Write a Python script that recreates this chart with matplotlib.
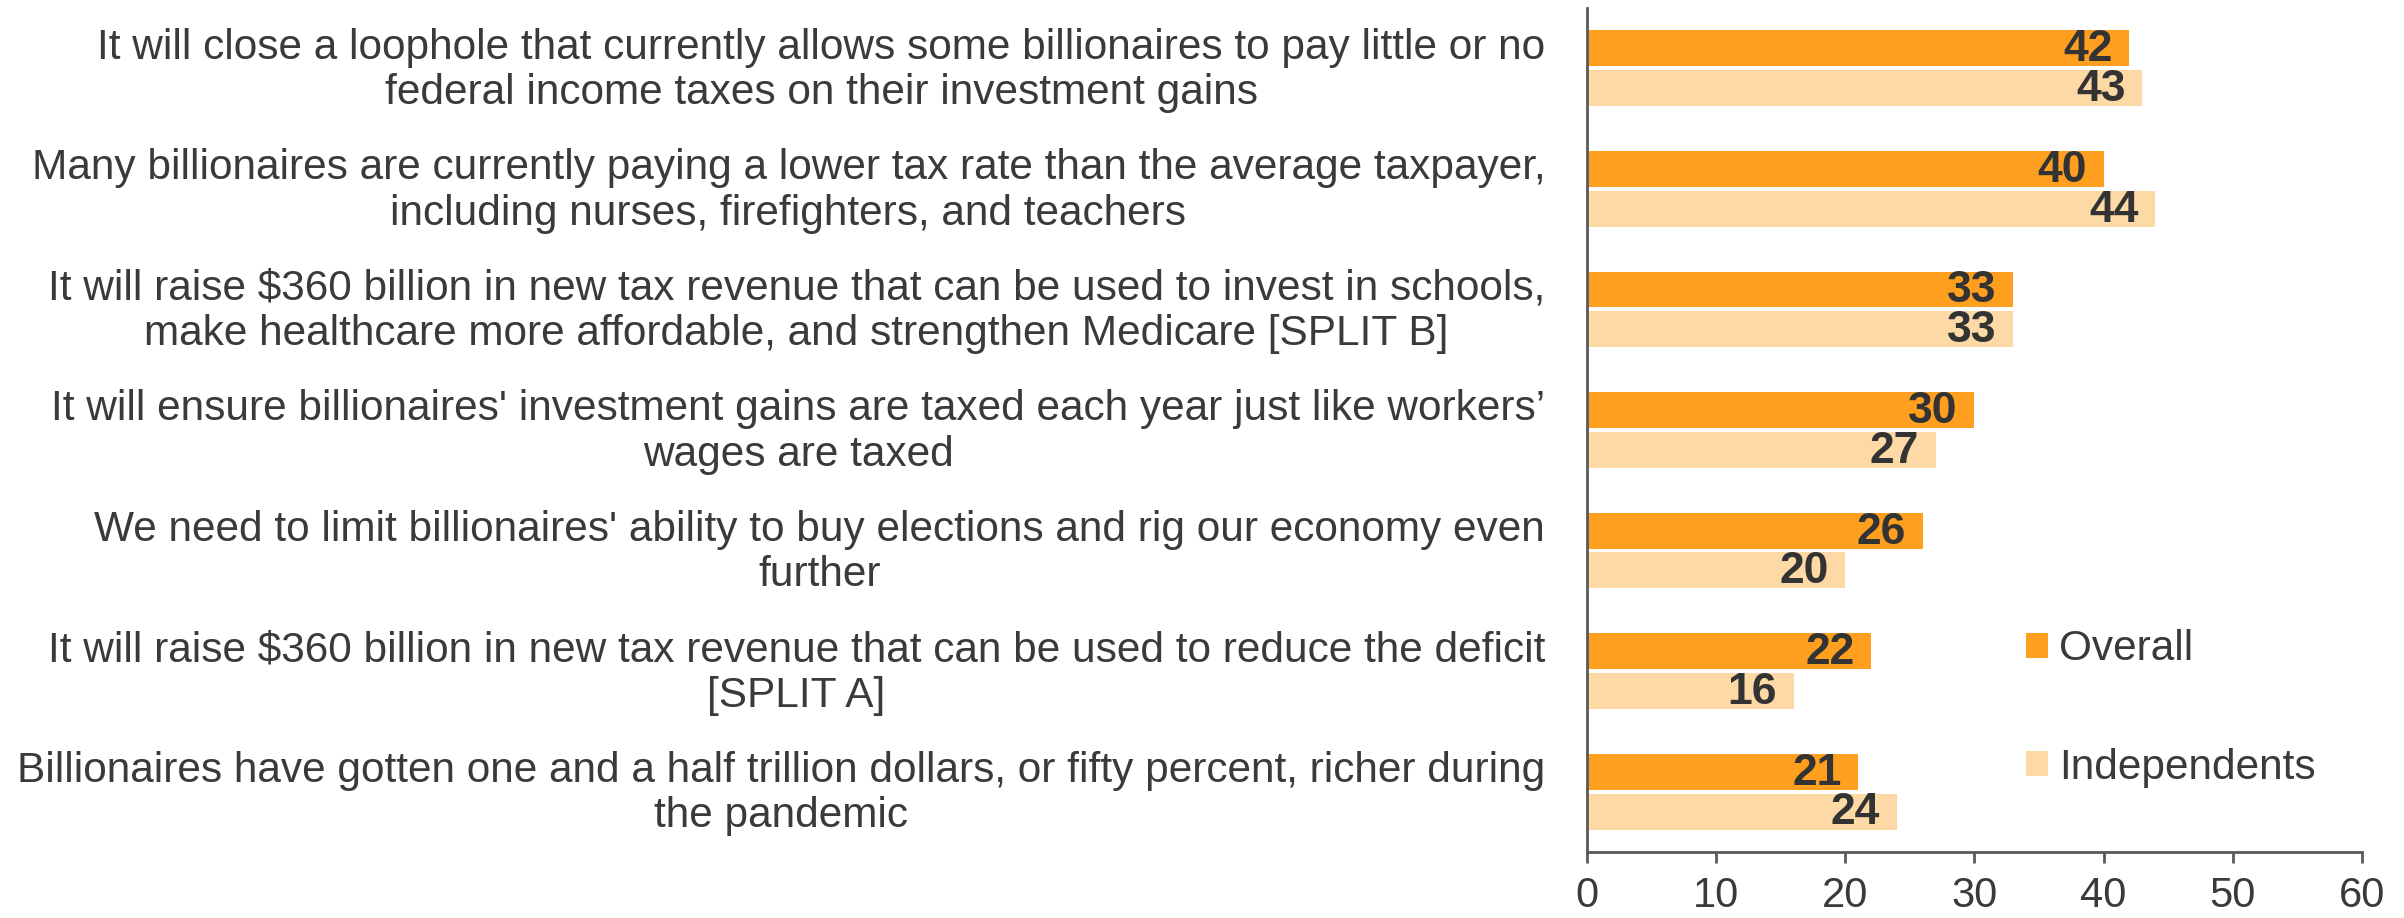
import matplotlib.pyplot as plt
import matplotlib.transforms as mtransforms
import numpy as np

plt.rcParams['font.family'] = ['Liberation Sans', 'DejaVu Sans']

statements = [
    "It will close a loophole that currently allows some billionaires to pay little or no\nfederal income taxes on their investment gains",
    "Many billionaires are currently paying a lower tax rate than the average taxpayer,\nincluding nurses, firefighters, and teachers",
    "It will raise $360 billion in new tax revenue that can be used to invest in schools,\nmake healthcare more affordable, and strengthen Medicare [SPLIT B]",
    "It will ensure billionaires' investment gains are taxed each year just like workers\u2019\nwages are taxed",
    "We need to limit billionaires' ability to buy elections and rig our economy even\nfurther",
    "It will raise $360 billion in new tax revenue that can be used to reduce the deficit\n[SPLIT A]",
    "Billionaires have gotten one and a half trillion dollars, or fifty percent, richer during\nthe pandemic",
]
overall = [42, 40, 33, 30, 26, 22, 21]
independents = [43, 44, 33, 27, 20, 16, 24]
series_names = ["Overall", "Independents"]
xticks = [0, 10, 20, 30, 40, 50, 60]

c_overall = "#FF9F1F"
c_indep = "#FDD9A6"
txt = "#3a3a3a"

fig = plt.figure(figsize=(24.04, 9.18), dpi=100)
ax = fig.add_axes([0.6601, 0.0719, 0.3224, 0.9194])

y = np.arange(len(statements))
h = 0.298
b1 = ax.barh(y - 0.165, overall, height=h, color=c_overall, label=series_names[0])
b2 = ax.barh(y + 0.165, independents, height=h, color=c_indep, label=series_names[1])

for bars in (b1, b2):
    for rect in bars:
        w = rect.get_width()
        ax.annotate(f"{w:g}", (w, rect.get_y() + rect.get_height() / 2),
                    xytext=(-12, -1), textcoords="offset points",
                    ha="right", va="center", fontsize=32, fontweight="bold", color="#333333")

ax.set_xlim(0, 60)
ax.set_ylim(len(statements) - 0.5, -0.5)
ax.set_xticks(xticks)
ax.set_yticks(y)
ax.set_yticklabels(statements, fontsize=30.5, color=txt, multialignment="center",
                   linespacing=1.17)
ax.tick_params(axis="y", length=0, pad=30)
ax.tick_params(axis="x", length=8, width=2, color="#595959", labelsize=30,
               labelcolor=txt, pad=9)

# nudge the statement labels up a little
shift = mtransforms.ScaledTranslation(0, 0.05, fig.dpi_scale_trans)
for lbl in ax.get_yticklabels():
    lbl.set_transform(lbl.get_transform() + shift)

for s in ("top", "right"):
    ax.spines[s].set_visible(False)
for s in ("left", "bottom"):
    ax.spines[s].set_color("#595959")
    ax.spines[s].set_linewidth(2)

ax.legend(loc="center left", bbox_to_anchor=(34, 5.31), bbox_transform=ax.transData,
          frameon=False, fontsize=30.5, handlelength=0.52, handleheight=0.52,
          handletextpad=0.25, labelspacing=1.85, borderpad=0, borderaxespad=0,
          labelcolor=txt)

fig.savefig("out.png", dpi=100)
